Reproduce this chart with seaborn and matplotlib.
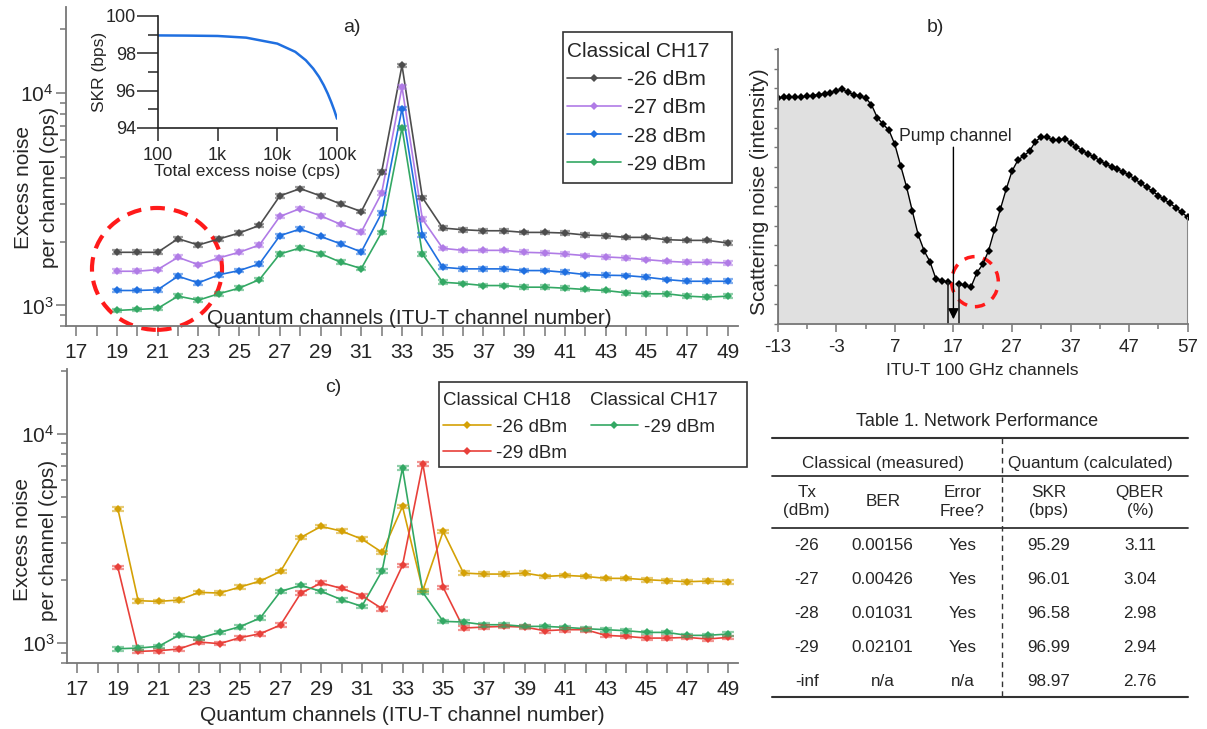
import numpy as np
import pandas as pd
import matplotlib
matplotlib.use("Agg")
import matplotlib.pyplot as plt
import seaborn as sns
from matplotlib import ticker
from matplotlib.patches import Ellipse, Rectangle
from matplotlib.lines import Line2D

# ---------------- data ----------------
channels = list(range(19, 50))

# panel a) classical CH17 launch powers
a_m26 = [1780, 1780, 1780, 2063, 1927, 2056, 2194, 2383, 3283, 3554, 3283, 3002, 2771, 4257, 13530,
         3224, 2316, 2274, 2249, 2249, 2209, 2209, 2194, 2147, 2131, 2093, 2093, 2041, 2026, 2026, 1969]
a_m27 = [1449, 1449, 1476, 1686, 1557, 1674, 1780, 1927, 2626, 2862, 2646, 2409, 2218, 3382, 10710,
         2553, 1858, 1818, 1818, 1818, 1780, 1769, 1748, 1717, 1693, 1674, 1644, 1614, 1597, 1597, 1587]
a_m28 = [1176, 1176, 1185, 1373, 1278, 1394, 1460, 1570, 2132, 2291, 2115, 1949, 1787, 2724, 8475,
         2154, 1513, 1487, 1487, 1487, 1460, 1460, 1433, 1398, 1388, 1383, 1358, 1324, 1300, 1300, 1300]
a_m29 = [947, 958, 968, 1106, 1059, 1135, 1206, 1324, 1748, 1866, 1754, 1597, 1492, 2209, 6874,
         1748, 1286, 1268, 1241, 1241, 1219, 1219, 1206, 1189, 1176, 1147, 1135, 1135, 1106, 1094, 1106]
a_labels = ["-26 dBm", "-27 dBm", "-28 dBm", "-29 dBm"]

# inset: SKR vs total excess noise
inset_noise = [100, 300, 1000, 3000, 10000, 20000, 30000, 40000, 50000, 60000, 70000, 80000, 90000, 100000]
inset_skr = [98.96, 98.95, 98.93, 98.84, 98.52, 98.08, 97.63, 97.18, 96.74, 96.29, 95.84, 95.39, 94.95, 94.50]

# panel b) scattering noise spectrum (pump on channel 17)
b_ch_left = list(range(-13, 17))
b_sc_left = [11.51, 11.54, 11.54, 11.54, 11.56, 11.59, 11.63, 11.68, 11.71, 11.78, 11.86, 11.95,
             11.80, 11.68, 11.61, 11.51, 11.17, 10.51, 10.17, 9.86, 9.14, 8.05, 6.98, 5.73, 4.53,
             3.73, 3.17, 2.31, 2.20, 2.14]
b_ch_right = list(range(18, 58))
b_sc_right = [2.03, 1.97, 1.88, 2.61, 3.03, 3.73, 4.78, 5.83, 6.85, 7.78, 8.34, 8.56, 8.80, 9.29,
              9.53, 9.51, 9.36, 9.36, 9.42, 9.24, 9.02, 8.83, 8.66, 8.51, 8.32, 8.15, 8.00, 7.88,
              7.75, 7.58, 7.37, 7.17, 6.97, 6.76, 6.54, 6.34, 6.14, 5.92, 5.68, 5.44]
pump_channel = 17

# panel c) CH18 vs CH17 classical
c_ch18_m26 = [4383, 1593, 1581, 1605, 1746, 1733, 1851, 1978, 2199, 3197, 3609, 3427, 3139, 2711,
              4496, 1785, 3414, 2160, 2136, 2136, 2160, 2081, 2105, 2081, 2037, 2037, 2007, 1985, 1963, 1978, 1963]
c_ch18_m29 = [2299, 912, 919, 936, 1011, 993, 1060, 1108, 1219, 1733, 1935, 1824, 1683, 1459,
              2350, 7190, 1845, 1179, 1192, 1201, 1192, 1145, 1158, 1158, 1088, 1076, 1056, 1056, 1064, 1045, 1064]
c_ch17_m29 = [939, 946, 964, 1088, 1053, 1124, 1197, 1316, 1765, 1886, 1765, 1611, 1497, 2216,
              6855, 1746, 1269, 1260, 1223, 1223, 1201, 1201, 1188, 1171, 1158, 1145, 1124, 1124, 1088, 1088, 1104]

# table 1
tab_tx = ["-26", "-27", "-28", "-29", "-inf"]
tab_ber = ["0.00156", "0.00426", "0.01031", "0.02101", "n/a"]
tab_free = ["Yes", "Yes", "Yes", "Yes", "n/a"]
tab_skr = ["95.29", "96.01", "96.58", "96.99", "98.97"]
tab_qber = ["3.11", "3.04", "2.98", "2.94", "2.76"]

rel_err = 0.02

# ---------------- style ----------------
sns.set_style("ticks")
plt.rcParams["font.family"] = ["Liberation Sans", "DejaVu Sans"]
plt.rcParams["mathtext.fontset"] = "custom"
plt.rcParams["mathtext.rm"] = "Liberation Sans"
plt.rcParams["mathtext.it"] = "Liberation Sans:italic"
plt.rcParams["axes.unicode_minus"] = False

col_a = ["#4d4d4d", "#b07be6", "#1f6fe0", "#33a864"]
col_gold = "#d4a106"
col_red = "#e8403a"
spine_col = "#777777"

W, H = 1207, 729
fig = plt.figure(figsize=(W / 100, H / 100), dpi=100)


def box(l, t, r, b):
    return [l / W, 1 - b / H, (r - l) / W, (b - t) / H]


def frame(l, t, r, b):
    fig.add_artist(Rectangle((l / W, 1 - b / H), (r - l) / W, (b - t) / H,
                             transform=fig.transFigure, fill=False, ec="#333333", lw=1.2))


def style_noise_axis(ax, ymax):
    ax.set_yscale("log")
    ax.set_xlim(16.5, 49.5)
    ax.set_ylim(800, ymax)
    ax.set_xticks(range(17, 50, 2))
    ax.set_xticks(range(18, 50, 2), minor=True)
    ax.yaxis.set_minor_formatter(ticker.NullFormatter())
    sns.despine(ax=ax)
    for s in ["left", "bottom"]:
        ax.spines[s].set_color(spine_col)
        ax.spines[s].set_linewidth(1.3)
    ax.tick_params(axis="x", which="both", length=7, width=1.1, color=spine_col, labelsize=15, pad=5)
    ax.tick_params(axis="y", which="major", length=7, width=1.1, color=spine_col, labelsize=15, pad=2)
    ax.tick_params(axis="y", which="minor", length=4, width=1.1, color=spine_col)
    ax.set_xlabel("")
    ax.set_ylabel("Excess noise\nper channel (cps)", fontsize=15, linespacing=1.45)


def draw_series(ax, ys, labels, colors, capsize):
    df = pd.DataFrame({
        "channel": channels * len(ys),
        "noise": [v for y in ys for v in y],
        "power": [lab for lab, y in zip(labels, ys) for _ in y],
    })
    sns.lineplot(data=df, x="channel", y="noise", hue="power", hue_order=labels,
                 palette=colors, marker="D", markersize=4, markeredgewidth=0,
                 linewidth=1.2, legend=False, ax=ax)
    for y, c in zip(ys, colors):
        y = np.array(y, dtype=float)
        ax.errorbar(channels, y, yerr=y * rel_err, fmt="none", ecolor=c, alpha=0.55,
                    elinewidth=1.6, capsize=capsize, capthick=1.6)


# ---------------- panel a ----------------
ax_a = fig.add_axes(box(66, 7, 738, 326))
draw_series(ax_a, [a_m26, a_m27, a_m28, a_m29], a_labels, col_a, 3.5)
style_noise_axis(ax_a, 25500)
ax_a.yaxis.set_label_coords(-0.0104, 0.433)
fig.text(409 / W, 1 - 318 / H, "Quantum channels (ITU-T channel number)", fontsize=15,
         ha="center", va="center")
fig.text(352 / W, 1 - 27 / H, "a)", fontsize=14, ha="center", va="center")

ax_a.add_patch(Ellipse((0.1354, 0.179), 0.1935, 0.382, transform=ax_a.transAxes, fill=False,
                       ec="#ff1a1a", lw=3, ls=(0, (3.5, 2.2)), clip_on=False))

h_a = [Line2D([], [], color=c, marker="D", markersize=4, markeredgewidth=0, lw=1.2) for c in col_a]
ax_a.legend(h_a, a_labels, title="Classical CH17", loc="upper left",
            bbox_to_anchor=(567 / W, 1 - 42 / H), bbox_transform=fig.transFigure,
            fontsize=15, title_fontsize=15, frameon=False, handlelength=2.6, handletextpad=0.3,
            labelspacing=0.44, borderpad=0, borderaxespad=0, alignment="left")
frame(562.7, 32, 731.7, 183)

# inset
ax_in = fig.add_axes(box(158, 16, 337, 128))
ax_in.patch.set_alpha(0)
sns.lineplot(x=inset_noise, y=inset_skr, ax=ax_in, color="#1f6fe0", lw=1.8)
ax_in.set_xscale("log")
ax_in.set_xlim(100, 1e5)
ax_in.set_ylim(94, 100)
ax_in.set_yticks([94, 96, 98, 100])
ax_in.set_yticks([95, 97, 99], minor=True)
ax_in.set_xticks([100, 1000, 10000, 100000])
ax_in.set_xticklabels(["100", "1k", "10k", "100k"])
ax_in.xaxis.set_minor_locator(ticker.LogLocator(base=10, subs=np.arange(2, 10)))
ax_in.xaxis.set_minor_formatter(ticker.NullFormatter())
sns.despine(ax=ax_in)
for s in ["left", "bottom"]:
    ax_in.spines[s].set_color("#222222")
    ax_in.spines[s].set_linewidth(1.2)
ax_in.tick_params(axis="y", which="major", length=15, width=1.1, labelsize=13, pad=1)
ax_in.tick_params(axis="y", which="minor", length=7, width=1.1)
ax_in.tick_params(axis="x", which="major", length=9, width=1.1, labelsize=13, pad=5)
ax_in.tick_params(axis="x", which="minor", length=6.5, width=1.1)
ax_in.set_xlabel("Total excess noise (cps)", fontsize=12.5, labelpad=0)
ax_in.set_ylabel("SKR (bps)", fontsize=12.5, labelpad=-1)

# ---------------- panel b ----------------
ax_b = fig.add_axes(box(777.7, 49, 1187.7, 324))
for xs, ys in [(b_ch_left, b_sc_left), (b_ch_right, b_sc_right)]:
    ax_b.fill_between(xs, ys, 0, color="#e0e0e0", lw=0)
    sns.lineplot(x=xs, y=ys, ax=ax_b, color="black", marker="D", markersize=4.5,
                 markeredgewidth=0, lw=1)
ax_b.fill_between([b_ch_left[-1], b_ch_right[0]], [b_sc_left[-1], b_sc_right[0]], 0,
                  color="#e0e0e0", lw=0)
ax_b.vlines([b_ch_left[0], b_ch_right[-1]], 0, [b_sc_left[0], b_sc_right[-1]], color="#888888", lw=1.5)
ax_b.vlines([b_ch_left[-1], b_ch_right[0]], 0, [b_sc_left[-1], b_sc_right[0]], color="#222222", lw=1.2)
ax_b.annotate("", xy=(pump_channel, 0.1), xytext=(pump_channel, 9.14),
              arrowprops=dict(arrowstyle="-|>", color="black", lw=1, mutation_scale=16))
ax_b.text(17.36, 9.57, "Pump channel", fontsize=12.7, ha="center", va="center")
ax_b.set_xlim(-13, 57)
ax_b.set_ylim(0, 14)
ax_b.set_xticks(range(-13, 58, 10))
ax_b.set_xticks(range(-8, 58, 10), minor=True)
ax_b.set_yticks(range(0, 15))
ax_b.set_yticklabels([])
sns.despine(ax=ax_b)
for s in ["left", "bottom"]:
    ax_b.spines[s].set_color(spine_col)
    ax_b.spines[s].set_linewidth(1.3)
ax_b.tick_params(axis="x", which="major", length=6, width=1.1, color=spine_col, labelsize=13.5, pad=5)
ax_b.tick_params(axis="x", which="minor", length=3.5, width=1.1, color=spine_col)
ax_b.tick_params(axis="y", length=3, width=1, color=spine_col)
ax_b.set_xlabel("ITU-T 100 GHz channels", fontsize=12.5, labelpad=5)
ax_b.set_ylabel("Scattering noise (intensity)", fontsize=15)
ax_b.yaxis.set_label_coords(-0.021, 0.481)
ax_b.add_patch(Ellipse((0.481, 0.154), 0.114, 0.182, transform=ax_b.transAxes, fill=False,
                       ec="#ff1a1a", lw=2.5, ls=(0, (3, 2.5)), clip_on=False))
fig.text(935 / W, 1 - 28 / H, "b)", fontsize=14, ha="center", va="center")

# ---------------- panel c ----------------
ax_c = fig.add_axes(box(67, 369, 738, 663.3))
c_labels = ["CH18 -26 dBm", "CH18 -29 dBm", "CH17 -29 dBm"]
col_c = [col_gold, col_red, col_a[3]]
draw_series(ax_c, [c_ch18_m26, c_ch18_m29, c_ch17_m29], c_labels, col_c, 4.5)
style_noise_axis(ax_c, 20400)
ax_c.yaxis.set_label_coords(-0.0134, 0.419)
ax_c.set_xlabel("Quantum channels (ITU-T channel number)", fontsize=15, labelpad=5)
fig.text(333 / W, 1 - 387 / H, "c)", fontsize=14, ha="center", va="center")

h_c = [Line2D([], [], color=c, marker="D", markersize=4, markeredgewidth=0, lw=1.2) for c in col_c]
leg_kw = dict(loc="upper left", bbox_transform=fig.transFigure, fontsize=13.5, title_fontsize=13.5,
              frameon=False, handlelength=2.55, handletextpad=0.3, labelspacing=0.5,
              borderpad=0, borderaxespad=0, alignment="left")
leg_c1 = ax_c.legend(h_c[:2], ["-26 dBm", "-29 dBm"], title="Classical CH18",
                     bbox_to_anchor=(443 / W, 1 - 392 / H), **leg_kw)
ax_c.add_artist(leg_c1)
ax_c.legend(h_c[2:], ["-29 dBm"], title="Classical CH17",
            bbox_to_anchor=(590.5 / W, 1 - 392 / H), **leg_kw)
frame(439.3, 381.7, 746.7, 466.7)

# ---------------- table ----------------
def hline(y, x0=771.7, x1=1187.7, lw=1.3):
    fig.add_artist(Line2D([x0 / W, x1 / W], [1 - y / H, 1 - y / H], transform=fig.transFigure,
                          color="#333333", lw=lw))


fig.text(976.7 / W, 1 - 421.7 / H, "Table 1. Network Performance", fontsize=13, ha="center", va="center")
hline(437.7, lw=1.5)
hline(475.7)
hline(527.7)
hline(696.7, lw=1.5)
fig.add_artist(Line2D([1002.3 / W, 1002.3 / W], [1 - 437.7 / H, 1 - 696.7 / H], transform=fig.transFigure,
                      color="#333333", lw=1, ls=(0, (4, 3))))
fig.text(883.3 / W, 1 - 463.3 / H, "Classical (measured)", fontsize=12.3, ha="center", va="center")
fig.text(1090 / W, 1 - 463.3 / H, "Quantum (calculated)", fontsize=12.3, ha="center", va="center")

col_x = [806.7, 882.7, 962.5, 1048.3, 1140]
headers = ["Tx\n(dBm)", "BER", "Error\nFree?", "SKR\n(bps)", "QBER\n(%)"]
for x, h in zip(col_x, headers):
    fig.text(x / W, 1 - 501.7 / H, h, fontsize=12.3, ha="center", va="center",
             multialignment="center", linespacing=1.3)
row_y = [545, 579, 613.3, 647.3, 681]
for i, y in enumerate(row_y):
    for x, col in zip(col_x, [tab_tx, tab_ber, tab_free, tab_skr, tab_qber]):
        fig.text(x / W, 1 - y / H, col[i], fontsize=12.3, ha="center", va="center")

fig.savefig("out.png", dpi=100)
